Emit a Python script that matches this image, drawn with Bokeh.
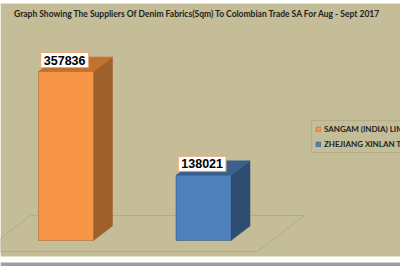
from bokeh.plotting import figure
from bokeh.models import Range1d, Legend, LegendItem, Label, ColumnDataSource
from bokeh.core.properties import value
from bokeh.embed import file_html
from bokeh.resources import INLINE

# ---- data ----
suppliers = ["SANGAM (INDIA) LIMITED", "ZHEJIANG XINLAN TEXTILE CO., LTD"]
quantities = [357836, 138021]
title_text = "Graph Showing The Suppliers Of Denim Fabrics(Sqm) To  Colombian Trade SA For Aug - Sept 2017"
front_colors = ["#F79646", "#4F81BD"]
side_colors = ["#A0602C", "#2F4D73"]
top_colors = ["#C2722F", "#3B6090"]

W, H = 400, 266
BG = "#C4BD97"

# layout (pixels)
zero_px = 240.0          # pixel row of value 0
max_px = 169.0           # pixel height of the largest bar
first_center = 65.5
step = 137.5
scale = max_px / max(quantities)      # px per unit

y_start = -(H - zero_px) / scale
y_end = zero_px / scale
x_start = -first_center / step
x_end = (W - first_center) / step


def px_x(px):
    return x_start + px / step


def px_y(py):
    return y_end - py / scale


p = figure(width=W, height=H, output_backend="svg", toolbar_location=None,
           x_range=Range1d(x_start, x_end), y_range=Range1d(y_start, y_end),
           x_axis_type=None, y_axis_type=None, min_border=0)
p.grid.visible = False
p.outline_line_color = None
p.background_fill_color = "white"
p.border_fill_color = "white"

# chart area background and bottom frame line
p.quad(left=[x_start], right=[x_end], top=[px_y(3)], bottom=[px_y(256)],
       fill_color=BG, line_color=None)
p.quad(left=[x_start], right=[x_end], top=[px_y(262)], bottom=[y_start],
       fill_color="#9E9E9E", line_color=None)

# floor
fx = [px_x(-17), px_x(257), px_x(304), px_x(30)]
fy = [px_y(251), px_y(251), px_y(215), px_y(215)]
p.patch(fx, fy, fill_color=BG, line_color="#B3AC87", line_width=1)

half = 0.2
dx = 19.0 / step
dy = 14.5 / scale

legend_items = []
for i, (name, q) in enumerate(zip(suppliers, quantities)):
    l, r = i - half, i + half
    # side face
    p.patch([r, r + dx, r + dx, r], [0, dy, q + dy, q],
            fill_color=side_colors[i], line_color=side_colors[i], line_width=0.5)
    # top face
    p.patch([l, l + dx, r + dx, r], [q, q + dy, q + dy, q],
            fill_color=top_colors[i], line_color=top_colors[i], line_width=0.5)
    # front face
    fr = p.quad(left=[l], right=[r], bottom=[0], top=[q],
                fill_color=front_colors[i], line_color=side_colors[i], line_width=0.5)
    legend_items.append(LegendItem(label=name, renderers=[fr]))

# value labels
src = ColumnDataSource(dict(x=[i - 0.01 for i in range(len(quantities))],
                            y=quantities,
                            t=[str(q) for q in quantities]))
p.text(x="x", y="y", text="t", source=src, text_align="center", text_baseline="bottom",
       y_offset=-4, text_font=value("Liberation Sans"), text_font_style="bold",
       text_font_size="12.5px", text_color="black",
       background_fill_color="white", border_line_color="#EDA979", border_line_width=1,
       padding=3)

# title
p.add_layout(Label(x=198, y=H - 13, x_units="screen", y_units="screen", text=title_text,
                   text_align="center", text_baseline="middle", text_font="Lato",
                   text_font_style="bold", text_font_size="8.5px", text_color="#222222"))

legend = Legend(items=legend_items, location=(311, H - 153),
                label_text_font="Lato", label_text_font_style="bold",
                label_text_font_size="8px", label_text_color="#222222",
                glyph_width=6, glyph_height=6, label_height=8, label_standoff=3,
                padding=3, spacing=5, margin=0,
                background_fill_color=BG, background_fill_alpha=1.0,
                border_line_color="#A39D7E", border_line_width=1)
p.add_layout(legend)

open("out.html", "w").write(file_html(p, INLINE))
